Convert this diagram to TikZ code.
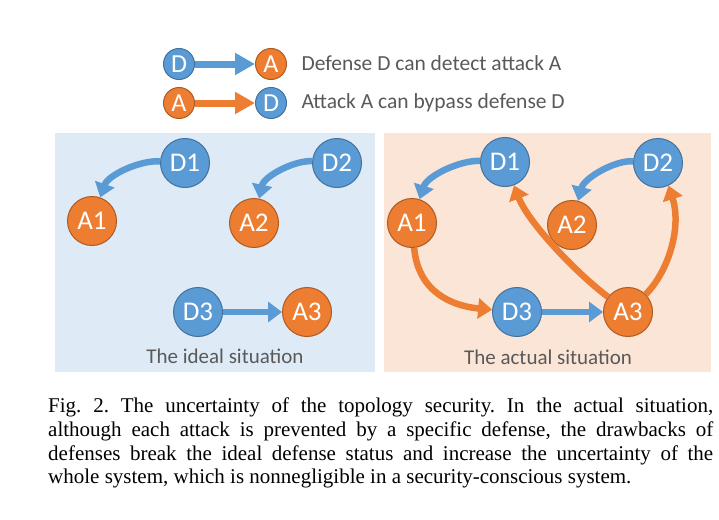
\documentclass[tikz,border=0pt]{standalone}
\usepackage{fontspec}
\setmainfont{Liberation Serif}
\newfontfamily\calibri{Carlito}
\usepackage{xcolor}
\definecolor{defblue}{HTML}{5B9BD5}
\definecolor{defedge}{HTML}{41719C}
\definecolor{attorange}{HTML}{ED7D31}
\definecolor{attedge}{HTML}{AE5A21}
\definecolor{idealbg}{HTML}{DEEBF7}
\definecolor{actualbg}{HTML}{FBE5D6}
\definecolor{labelgray}{HTML}{595959}
\usepackage{tikz}
\usetikzlibrary{arrows.meta,positioning}
\tikzset{
  dnode/.style  = {circle, fill=defblue, draw=defedge, line width=1pt,
                   minimum size=49pt, inner sep=0pt, text=white,
                   font=\calibri\fontsize{27}{27}\selectfont},
  anode/.style  = {dnode, fill=attorange, draw=attedge},
  dsmall/.style = {dnode, minimum size=31pt,
                   font=\calibri\fontsize{26}{26}\selectfont},
  asmall/.style = {dsmall, fill=attorange, draw=attedge},
  legtext/.style = {anchor=west, text=labelgray,
                    font=\calibri\fontsize{21.5}{21.5}\selectfont},
  sitlabel/.style = {text=labelgray, font=\calibri\fontsize{21}{21}\selectfont},
  barr/.style   = {-{Triangle[length=14pt,width=20pt]}, line width=6.5pt, draw=defblue},
  oarr/.style   = {barr, draw=attorange},
  blegarr/.style = {-{Triangle[length=20pt,width=21pt]}, line width=7pt, draw=defblue},
  olegarr/.style = {blegarr, draw=attorange}
}

\begin{document}
\begin{tikzpicture}[x=1pt, y=-1pt]
  \useasboundingbox (0,0) rectangle (719,519);
  % legend
  \node[dsmall] (ld) at (179,64) {D};
  \node[asmall] (la) at (271,64) {A};
  \node[asmall] (la2) at (179,103) {A};
  \node[dsmall] (ld2) at (271,103) {D};
  \draw[blegarr] (ld) -- (la);
  \draw[olegarr] (la2) -- (ld2);
  \node[legtext] (t1) at (298,63) {Defense D can detect attack A};
  \node[legtext] (t2) at (298,103) {Attack A can bypass defense D};

  % panels
  \fill[idealbg] (55,133) rectangle (375,372);
  \fill[actualbg] (384,133) rectangle (711,372);

  % ideal situation
  \node[dnode] (id1) at (185,163) {D1};
  \node[dnode] (id2) at (337,163) {D2};
  \node[anode] (ia1) at (92,221) {A1};
  \node[anode] (ia2) at (254,223) {A2};
  \node[dnode] (id3) at (198,312) {D3};
  \node[anode] (ia3) at (307,312) {A3};
  \draw[barr] (id1) .. controls (140,160) and (108,175) .. (ia1);
  \draw[barr] (id2) .. controls (295,160) and (264,176) .. (ia2);
  \draw[barr] (id3) -- (ia3);
  \node[sitlabel] (ideal) at (225,356) {The ideal situation};

  % actual situation
  \node[dnode] (ad1) at (505,162) {D1};
  \node[dnode] (ad2) at (658,163) {D2};
  \node[anode] (aa1) at (412,223) {A1};
  \node[anode] (aa2) at (572,225) {A2};
  \node[dnode] (ad3) at (517,312) {D3};
  \node[anode] (aa3) at (628,312) {A3};
  \draw[barr] (ad1) .. controls (460,160) and (427,176) .. (aa1);
  \draw[barr] (ad2) .. controls (615,160) and (584,178) .. (aa2);
  \draw[barr] (ad3) -- (aa3);
  \draw[oarr] (aa1) .. controls (418,292) and (452,306) .. (ad3);
  \draw[oarr] (aa3) .. controls (575,272) and (528,222) .. (ad1);
  \draw[oarr] (aa3) .. controls (668,272) and (682,228) .. (ad2.-65);
  \node[sitlabel] (actual) at (548,357) {The actual situation};

  % caption
  \node[anchor=north west, text width=665pt, align=justify, inner sep=0pt,
        font=\frenchspacing\fontsize{21}{23.6}\selectfont] (cap) at (48,398)
    {Fig. 2. The uncertainty of the topology security. In the actual situation,\linebreak
     although each attack is prevented by a specific defense, the drawbacks of\linebreak
     defenses break the ideal defense status and increase the uncertainty of the\linebreak
     whole system, which is nonnegligible in a security-conscious system.};
\end{tikzpicture}
\end{document}
